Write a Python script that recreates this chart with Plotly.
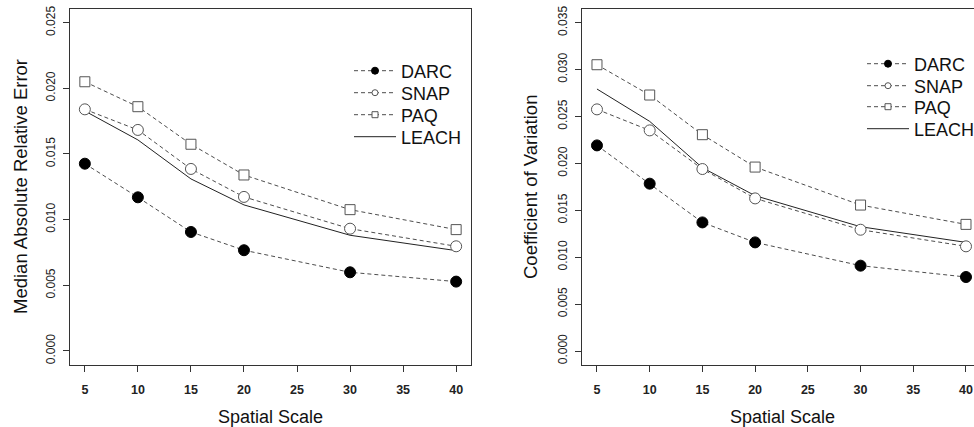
import plotly.graph_objects as go

scale = [5, 10, 15, 20, 30, 40]

# Left panel: Median Absolute Relative Error
mare_darc = [0.01426, 0.01170, 0.00906, 0.00767, 0.00599, 0.00528]
mare_snap = [0.01840, 0.01683, 0.01386, 0.01173, 0.00931, 0.00797]
mare_paq = [0.02050, 0.01860, 0.01574, 0.01340, 0.01076, 0.00924]
mare_leach = [0.01827, 0.01607, 0.01310, 0.01112, 0.00881, 0.00764]

# Right panel: Coefficient of Variation
cv_darc = [0.02192, 0.01784, 0.01371, 0.01158, 0.00910, 0.00789]
cv_snap = [0.02576, 0.02352, 0.01940, 0.01627, 0.01293, 0.01116]
cv_paq = [0.03052, 0.02729, 0.02306, 0.01961, 0.01556, 0.01350]
cv_leach = [0.02793, 0.02448, 0.01954, 0.01656, 0.01325, 0.01158]

series_names = ["DARC", "SNAP", "PAQ", "LEACH"]
x_ticks = [5, 10, 15, 20, 25, 30, 35, 40]
y_ticks_left = [0.000, 0.005, 0.010, 0.015, 0.020, 0.025]
y_ticks_right = [0.000, 0.005, 0.010, 0.015, 0.020, 0.025, 0.030, 0.035]

FONT = "Liberation Sans, Arial, sans-serif"
DASH = "4px,3px"
GREY = "#4d4d4d"

styles = {
    "DARC": dict(line=dict(color=GREY, width=1, dash=DASH),
                 marker=dict(symbol="circle", size=11, color="black", line=dict(color="black", width=1)),
                 mode="lines+markers"),
    "SNAP": dict(line=dict(color=GREY, width=1, dash=DASH),
                 marker=dict(symbol="circle", size=11, color="white", line=dict(color="#555", width=1)),
                 mode="lines+markers"),
    "PAQ": dict(line=dict(color=GREY, width=1, dash=DASH),
                marker=dict(symbol="square", size=10, color="white", line=dict(color="#555", width=1)),
                mode="lines+markers"),
    "LEACH": dict(line=dict(color="#222", width=1), mode="lines"),
}
legend_marker_sizes = {"DARC": 7, "SNAP": 6, "PAQ": 6}

# one small legend per entry so rows can sit at the reference spacing
legend_rows_left = [71, 93, 115, 137]
legend_rows_right = [64, 86, 107, 129]

fig = go.Figure()

panels = [
    ("x", "y", [mare_darc, mare_snap, mare_paq, mare_leach], 349, legend_rows_left, 1),
    ("x2", "y2", [cv_darc, cv_snap, cv_paq, cv_leach], 862, legend_rows_right, 5),
]

legend_layouts = {}
for xa, ya, data, lx, rows, lg_start in panels:
    order = [3, 1, 2, 0]  # draw LEACH first so markers sit above
    for i in order:
        name = series_names[i]
        st = styles[name]
        fig.add_trace(go.Scatter(
            x=scale, y=data[i], name=name, xaxis=xa, yaxis=ya,
            mode=st["mode"], line=st["line"], marker=st.get("marker"),
            showlegend=False, cliponaxis=False,
        ))
    for k, name in enumerate(series_names):
        st = styles[name]
        mk = None
        if "marker" in st:
            mk = dict(st["marker"])
            mk["size"] = legend_marker_sizes[name]
        lg_id = "legend" if lg_start + k == 1 else f"legend{lg_start + k}"
        fig.add_trace(go.Scatter(
            x=[None], y=[None], name=name, xaxis=xa, yaxis=ya,
            mode=st["mode"], line=st["line"], marker=mk,
            showlegend=True, legend=lg_id,
        ))
        legend_layouts[lg_id] = dict(
            x=lx / 974, y=1 - rows[k] / 427, xanchor="left", yanchor="middle",
            bgcolor="rgba(0,0,0,0)", borderwidth=0, itemwidth=42,
            font=dict(size=18, family=FONT, color="#111"),
        )

ydom = [1 - 365 / 427, 1 - 9 / 427]

axis_common = dict(
    showgrid=False, zeroline=False, showline=True, linecolor="#333", linewidth=1,
    ticks="outside", ticklen=6, tickcolor="#333", tickwidth=1,
)

fig.update_layout(
    width=974, height=427,
    margin=dict(l=0, r=0, t=0, b=0, autoexpand=False),
    paper_bgcolor="white", plot_bgcolor="white",
    font=dict(family=FONT, color="#222"),
    xaxis=dict(domain=[70 / 974, 471 / 974], range=[3.6, 41.4], tickvals=x_ticks,
               mirror=True, anchor="y", ticklabelstandoff=7,
               tickfont=dict(size=12.5, weight="bold", color="#222"), **axis_common),
    yaxis=dict(domain=ydom, range=[-0.00107, 0.02604], tickvals=y_ticks_left,
               tickformat=".3f", tickangle=-90, mirror=True, anchor="x", ticklabelstandoff=3,
               tickfont=dict(size=12, color="#222"), **axis_common),
    xaxis2=dict(domain=[582 / 974, 1.0], range=[3.58, 40.76], tickvals=x_ticks,
                mirror=True, anchor="y2", ticklabelstandoff=7,
                tickfont=dict(size=12.5, weight="bold", color="#222"), **axis_common),
    yaxis2=dict(domain=ydom, range=[-0.00149, 0.03646], tickvals=y_ticks_right,
                tickformat=".3f", tickangle=-90, mirror=False, anchor="x2", ticklabelstandoff=3,
                tickfont=dict(size=12, color="#222"), **axis_common),
    annotations=[
        dict(text="Spatial Scale", x=270 / 974, y=1 - 417 / 427, xref="paper", yref="paper",
             showarrow=False, xanchor="center", yanchor="middle", font=dict(size=18, color="#111")),
        dict(text="Spatial Scale", x=782 / 974, y=1 - 417 / 427, xref="paper", yref="paper",
             showarrow=False, xanchor="center", yanchor="middle", font=dict(size=18, color="#111")),
        dict(text="Median Absolute Relative Error", x=20 / 974, y=1 - 187 / 427, xref="paper",
             yref="paper", showarrow=False, textangle=-90, xanchor="center", yanchor="middle",
             font=dict(size=18.5, color="#111")),
        dict(text="Coefficient of Variation", x=530 / 974, y=1 - 187 / 427, xref="paper",
             yref="paper", showarrow=False, textangle=-90, xanchor="center", yanchor="middle",
             font=dict(size=18.5, color="#111")),
    ],
)
fig.update_layout(**legend_layouts)

fig.write_html(
    "out.html",
    config={"displayModeBar": False},
    post_script="document.body.style.margin='0';document.body.style.overflow='hidden';",
)
